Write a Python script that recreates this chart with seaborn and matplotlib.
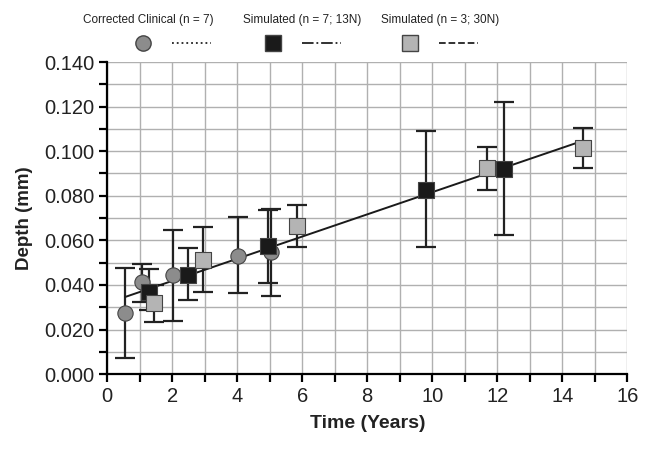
import numpy as np
import pandas as pd
import matplotlib
matplotlib.use('Agg')
import matplotlib.pyplot as plt
from matplotlib.lines import Line2D
import seaborn as sns

# Corrected clinical data (n = 7)
clin_x = [0.55, 1.06, 2.03, 4.03, 5.04]
clin_y = [0.0276, 0.0411, 0.0446, 0.0529, 0.0550]
clin_lo = [0.0074, 0.0324, 0.0238, 0.0365, 0.0351]
clin_hi = [0.0478, 0.0494, 0.0647, 0.0704, 0.0742]

# Simulated, 13N
s13_x = [1.29, 2.49, 4.95, 9.82, 12.22]
s13_y = [0.0369, 0.0446, 0.0574, 0.0827, 0.0919]
s13_lo = [0.0286, 0.0332, 0.0407, 0.0570, 0.0624]
s13_hi = [0.0471, 0.0564, 0.0735, 0.1089, 0.1220]

# Simulated, 30N
s30_x = [1.45, 2.95, 5.85, 11.68, 14.63]
s30_y = [0.0317, 0.0513, 0.0663, 0.0926, 0.1013]
s30_lo = [0.0235, 0.0367, 0.0570, 0.0825, 0.0925]
s30_hi = [0.0400, 0.0658, 0.0757, 0.1017, 0.1102]

# linear fit line
fit_x = [0.55, 14.6]
fit_y = [0.0346, 0.1045]

sns.set_style('whitegrid')
plt.rcParams['font.family'] = ['Liberation Sans', 'DejaVu Sans']

fig = plt.figure(figsize=(6.5, 4.63), dpi=100)
ax = fig.add_axes([0.165, 0.192, 0.80, 0.674])

sns.lineplot(x=fit_x, y=fit_y, color='#1a1a1a', linewidth=1.4, ax=ax, zorder=3)

groups = [
    (clin_x, clin_y, clin_lo, clin_hi, 'o', '#8c8c8c', 11),
    (s13_x, s13_y, s13_lo, s13_hi, 's', '#1a1a1a', 11),
    (s30_x, s30_y, s30_lo, s30_hi, 's', '#b4b4b4', 11),
]
for gx, gy, glo, ghi, mk, col, ms in groups:
    gy = np.array(gy)
    yerr = [gy - np.array(glo), np.array(ghi) - gy]
    ax.errorbar(gx, gy, yerr=yerr, fmt='none', ecolor='#222222',
                elinewidth=1.6, capsize=7, capthick=1.6, zorder=2)
    df = pd.DataFrame({'x': gx, 'y': gy})
    sns.scatterplot(data=df, x='x', y='y', marker=mk, color=col, s=ms ** 2,
                    edgecolor='#444444', linewidth=0.8, ax=ax, zorder=4)

ax.set_xlim(0, 16)
ax.set_ylim(0, 0.14)
ax.set_xticks(np.arange(0, 17, 2))
ax.set_xticks(np.arange(0, 17, 1), minor=True)
ax.set_yticks(np.arange(0, 0.141, 0.02))
ax.set_yticks(np.arange(0, 0.141, 0.01), minor=True)
ax.set_yticklabels(['%.3f' % v for v in np.arange(0, 0.141, 0.02)])
ax.grid(True, which='both', color='#b0b0b0', linewidth=1.0)
ax.tick_params(which='both', direction='out', length=6, width=1.6, color='black',
               left=True, bottom=True, labelsize=14.5, labelcolor='#222222', pad=3)
for s in ['top', 'right']:
    ax.spines[s].set_visible(False)
for s in ['left', 'bottom']:
    ax.spines[s].set_color('black')
    ax.spines[s].set_linewidth(1.6)
ax.set_xlabel('Time (Years)', fontsize=14, fontweight='bold', color='#222222', labelpad=7)
ax.set_ylabel('Depth (mm)', fontsize=13.5, fontweight='bold', color='#222222', labelpad=8)

# legend above the plot: text on top, marker and line sample underneath
leg = [
    ('Corrected Clinical (n = 7)', 0.228, 0.220, 'o', '#8c8c8c', ':'),
    ('Simulated (n = 7; 13N)', 0.465, 0.420, 's', '#1a1a1a', '-.'),
    ('Simulated (n = 3; 30N)', 0.677, 0.631, 's', '#b4b4b4', '--'),
]
for txt, cx, mx, mk, col, ls in leg:
    fig.text(cx, 0.957, txt, ha='center', va='center', fontsize=8.5, color='#222222')
    fig.add_artist(Line2D([mx], [0.908], marker=mk, markersize=11,
                          markerfacecolor=col, markeredgecolor='#444444',
                          linestyle='none'))
    fig.add_artist(Line2D([mx + 0.045, mx + 0.105], [0.908, 0.908], color='#222222',
                          linestyle=ls, linewidth=1.3))

fig.savefig('out.png', dpi=100)
